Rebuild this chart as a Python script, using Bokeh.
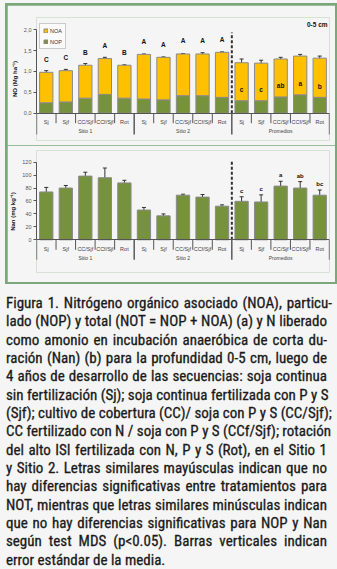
import html
from bokeh.plotting import figure
from bokeh.models import (ColumnDataSource, FactorRange, Range1d, Whisker, TeeHead,
                          Label, Legend, LegendItem, Div, FixedTicker)
from bokeh.layouts import column
from bokeh.embed import file_html
from bokeh.resources import INLINE
from bokeh.core.properties import value

# ---------------- data ----------------
groups = ["Sitio 1", "Sitio 2", "Promedios"]
treatments = ["Sj", "Sjf", "CC/Sjf", "CCf/Sjf", "Rot"]

# panel a: NOT total (NOP + NOA) and NOP, Mg/ha
not_total = [0.98, 1.02, 1.15, 1.31, 1.15, 1.41, 1.34, 1.42, 1.42, 1.46, 1.21, 1.20, 1.30, 1.37, 1.32]
nop = [0.25, 0.27, 0.36, 0.45, 0.36, 0.34, 0.32, 0.42, 0.42, 0.38, 0.30, 0.30, 0.39, 0.44, 0.38]
not_err = [0.04, 0.03, 0.04, 0.03, 0.01, 0.01, 0.01, 0.01, 0.03, 0.01, 0.09, 0.07, 0.04, 0.04, 0.05]
nop_err = [0.01, 0.015, 0.04, 0.015, 0.01, 0.005, 0.03, 0.01, 0.015, 0.01, 0.01, 0.01, 0.025, 0.01, 0.01]
not_letters = ["C", "C", "B", "A", "B", "A", "A", "A", "A", "A", "", "", "", "", ""]
nop_letters = ["", "", "", "", "", "", "", "", "", "", "c", "c", "ab", "a", "b"]

# panel b: Nan, mg/kg
nan = [74, 80, 98.5, 96, 88, 46, 37, 69, 66, 52, 59.5, 58.5, 83, 80, 69]
nan_err = [7, 4, 6, 15, 4, 4, 3, 1.5, 4, 2, 7, 11, 7.5, 10, 8]
nan_letters = ["", "", "", "", "", "", "", "", "", "", "c", "c", "a", "ab", "bc"]

y_ticks_a = [0, 0.5, 1.0, 1.5, 2.0]
y_labels_a = ["0,0", "0,5", "1,0", "1,5", "2,0"]
y_ticks_b = [0, 20, 40, 60, 80, 100, 120]

caption_lines = [
    "Figura 1. Nitrógeno orgánico asociado (NOA), particu-",
    "lado (NOP) y total (NOT = NOP + NOA) (a) y N liberado",
    "como amonio en incubación anaeróbica de corta du-",
    "ración (Nan) (b) para la profundidad 0-5 cm, luego de",
    "4 años de desarrollo de las secuencias: soja continua",
    "sin fertilización (Sj); soja continua fertilizada con P y S",
    "(Sjf); cultivo de cobertura (CC)/ soja con P y S (CC/Sjf);",
    "CC fertilizado con N / soja con P y S (CCf/Sjf); rotación",
    "del alto ISI fertilizada con N, P y S (Rot), en el Sitio 1",
    "y Sitio 2. Letras similares mayúsculas indican que no",
    "hay diferencias significativas entre tratamientos para",
    "NOT, mientras que letras similares minúsculas indican",
    "que no hay diferencias significativas para NOP y Nan",
    "según test MDS (p<0.05). Barras verticales indican",
    "error estándar de la media.",
]

# ---------------- styles ----------------
BG = "#f5f5f5"
BORDER = "#7aa87a"
YELLOW = "#ffc000"
GREEN = "#76923c"
OUTLINE = "#8a8a8a"
FONT = "Liberation Sans"

factors = [(g, t) for g in groups for t in treatments]
n = len(factors)
bounds = list(range(n + 1))
group_bounds = bounds[::len(treatments)]
cat_bounds = [b for b in bounds if b not in group_bounds]
dash_x = len(treatments) * 2


def make_fig(y_start, y_end, height, top, bottom):
    p = figure(x_range=FactorRange(*factors, group_padding=0, range_padding=0),
               y_range=Range1d(y_start, y_end), width=328, height=height,
               min_border_left=24, min_border_right=6, min_border_top=top,
               min_border_bottom=bottom, output_backend="svg", toolbar_location=None,
               background_fill_color=BG, border_fill_color=BG, outline_line_color=None)
    p.title = None
    p.grid.visible = False
    xa = p.xaxis[0]
    xa.fixed_location = 0
    xa.axis_line_color = "#555555"
    xa.major_tick_line_color = None
    xa.minor_tick_line_color = None
    xa.major_label_text_font = FONT
    xa.major_label_text_font_size = "5.5px"
    xa.major_label_text_color = "#444444"
    xa.major_label_standoff = 0
    xa.group_text_font = FONT
    xa.group_text_font_size = "5px"
    xa.group_text_color = "#444444"
    xa.group_text_font_style = "normal"
    if hasattr(xa, "separator_line_color"):
        xa.separator_line_color = None
    ya = p.yaxis[0]
    ya.axis_line_color = "#555555"
    ya.major_tick_line_color = "#555555"
    ya.major_tick_out = 3
    ya.major_tick_in = 0
    ya.minor_tick_line_color = None
    ya.major_label_text_font = FONT
    ya.major_label_text_font_size = "5.5px"
    ya.major_label_text_color = "#555555"
    ya.major_label_standoff = 2
    ya.axis_label_text_font = FONT
    ya.axis_label_text_font_size = "6px"
    ya.axis_label_text_font_style = "bold"
    ya.axis_label_text_color = "#111111"
    ya.axis_label_standoff = 3
    return p


def separators(p, short, long):
    p.segment(x0=cat_bounds, y0=0, x1=cat_bounds, y1=short, line_color="#555555", line_width=1)
    p.segment(x0=group_bounds, y0=0, x1=group_bounds, y1=long, line_color="#444444", line_width=1.3)


# ---------------- panel a ----------------
pa = make_fig(-0.655, 2.295, 140, 12, 5)
ya = pa.yaxis[0]
ya.bounds = (0, 2)
ya.ticker = FixedTicker(ticks=y_ticks_a)
ya.major_label_overrides = {t: l for t, l in zip(y_ticks_a, y_labels_a)}
ya.axis_label = "NO (Mg ha⁻¹)"

src_a = ColumnDataSource(dict(
    x=factors, nop=nop, tot=not_total,
    tot_hi=[t + e for t, e in zip(not_total, not_err)],
    tot_lo=[t - e for t, e in zip(not_total, not_err)],
    nop_hi=[t + e for t, e in zip(nop, nop_err)],
    nop_lo=[t - e for t, e in zip(nop, nop_err)],
    ul=not_letters, ll=nop_letters))

r_nop = pa.vbar(x="x", bottom=0, top="nop", width=0.68, source=src_a,
                fill_color=GREEN, line_color=OUTLINE, line_width=1)
r_noa = pa.vbar(x="x", bottom="nop", top="tot", width=0.68, source=src_a,
                fill_color=YELLOW, line_color=OUTLINE, line_width=1)

for hi, lo in (("tot_hi", "tot_lo"), ("nop_hi", "nop_lo")):
    w = Whisker(source=src_a, base="x", upper=hi, lower=lo, dimension="height",
                line_color="#333333", line_width=1,
                upper_head=TeeHead(size=4, line_color="#333333", line_width=1),
                lower_head=TeeHead(size=4, line_color="#333333", line_width=1))
    pa.add_layout(w)

pa.text(x="x", y="tot", text="ul", source=src_a, y_offset=-13, text_align="center",
        text_baseline="middle", text_font=value(FONT), text_font_size="6.5px",
        text_font_style="bold", text_color="#111111")
pa.text(x="x", y="nop", text="ll", source=src_a, y_offset=-11, text_align="center",
        text_baseline="middle", text_font=value(FONT), text_font_size="6.5px",
        text_font_style="bold", text_color="#111111")

separators(pa, -0.24, -0.51)
pa.segment(x0=[dash_x], y0=[0], x1=[dash_x], y1=[1.935], line_color="#333333",
           line_width=2, line_dash="3 2")

leg = Legend(items=[LegendItem(label="NOA", renderers=[r_noa]),
                    LegendItem(label="NOP", renderers=[r_nop])],
             location=(3, 91), orientation="vertical",
             glyph_width=5, glyph_height=5, label_height=7, label_width=12,
             label_text_font=FONT, label_text_font_size="5.5px", label_text_color="#333333",
             label_standoff=2, spacing=4, padding=3, margin=0,
             border_line_color="#999999", background_fill_color="#fbfbfb",
             background_fill_alpha=1)
pa.add_layout(leg)

pa.add_layout(Label(x=-0.83, y=2.175, text="a)", text_align="center", text_baseline="middle",
                    text_font=FONT, text_font_size="6.5px", text_font_style="bold",
                    text_color="#111111"))
pa.add_layout(Label(x=14.9, y=2.127, text="0-5 cm", text_align="right", text_baseline="middle",
                    text_font=FONT, text_font_size="6.5px", text_font_style="bold",
                    text_color="#111111"))

# ---------------- panel b ----------------
pb = make_fig(-50.6, 138.1, 137, 5, 10)
yb = pb.yaxis[0]
yb.bounds = (0, 120)
yb.ticker = FixedTicker(ticks=y_ticks_b)
yb.axis_label = "Nan (mg kg⁻¹)"

src_b = ColumnDataSource(dict(
    x=factors, nan=nan,
    hi=[t + e for t, e in zip(nan, nan_err)],
    lo=[t - e for t, e in zip(nan, nan_err)],
    ll=nan_letters))

pb.vbar(x="x", bottom=0, top="nan", width=0.68, source=src_b,
        fill_color=GREEN, line_color=OUTLINE, line_width=1)
pb.add_layout(Whisker(source=src_b, base="x", upper="hi", lower="lo", dimension="height",
                      line_color="#333333", line_width=1,
                      upper_head=TeeHead(size=4, line_color="#333333", line_width=1),
                      lower_head=TeeHead(size=4, line_color="#333333", line_width=1)))
pb.text(x="x", y="hi", text="ll", source=src_b, y_offset=-6, text_align="center",
        text_baseline="middle", text_font=value(FONT), text_font_size="6px",
        text_font_style="bold", text_color="#111111")

separators(pb, -15.5, -31)
pb.segment(x0=[dash_x], y0=[0], x1=[dash_x], y1=[121], line_color="#333333",
           line_width=2, line_dash="3 2")

pb.add_layout(Label(x=-0.83, y=131.9, text="b)", text_align="center", text_baseline="middle",
                    text_font=FONT, text_font_size="6.5px", text_font_style="bold",
                    text_color="#111111"))

pa.margin = (2, 2, 0, 2)
pb.margin = (0, 2, 2, 2)
box = column(pa, pb, styles={"background-color": BORDER}, margin=(3, 0, 0, 5))

# ---------------- caption ----------------
rows = []
for i, line in enumerate(caption_lines):
    last = i == len(caption_lines) - 1
    rows.append(
        '<div style="width:%dpx;white-space:nowrap;text-align:%s;text-align-last:%s;'
        'height:18.33px;line-height:18.33px;">%s</div>'
        % (326 if i == 0 else 321, "left" if last else "justify",
           "left" if last else "justify", html.escape(line)))
cap_html = ('<div style="font-family:\'Liberation Sans Narrow\',\'Roboto Condensed\','
            '\'DejaVu Sans Condensed\',\'Liberation Sans\',sans-serif;font-stretch:condensed;'
            'font-size:15px;color:#1a1a1a;-webkit-text-stroke:0.3px #1a1a1a;'
            'padding:10px 0 0 6px;">' + "".join(rows) + '</div>')
cap = Div(text=cap_html, width=337, height=285, margin=0,
          styles={"background-color": BG})

layout = column(box, cap, styles={"background-color": BG}, width=337)

open("out.html", "w").write(file_html(layout, INLINE))
